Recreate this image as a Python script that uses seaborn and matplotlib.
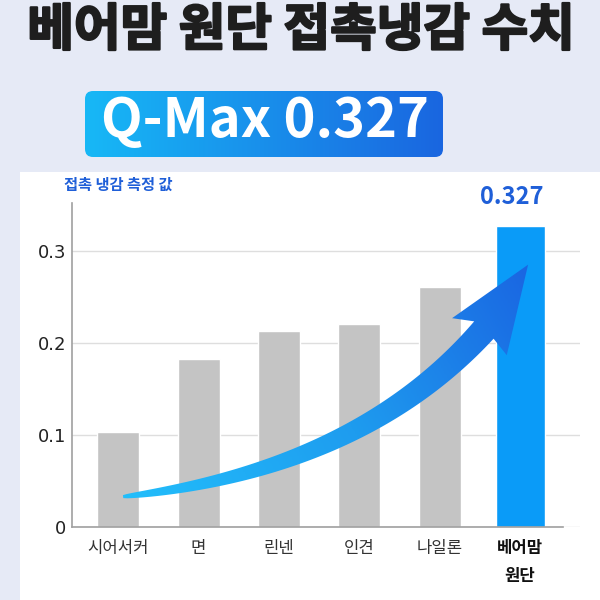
import numpy as np
import pandas as pd
import seaborn as sns
import matplotlib.pyplot as plt
import matplotlib.patheffects as pe
from matplotlib.patches import Rectangle, FancyBboxPatch, Polygon
from matplotlib.colors import LinearSegmentedColormap

# data
fabrics = ['시어서커', '면', '린넨', '인견', '나일론', '베어맘\n원단']
cooling = [0.103, 0.183, 0.213, 0.221, 0.261, 0.327]
bar_colors = ['#C4C4C4'] * 5 + ['#0A9BF8']
y_ticks = [0, 0.1, 0.2, 0.3]
y_tick_labels = ['0', '0.1', '0.2', '0.3']
title = '베어맘 원단 접촉냉감 수치'
badge_text = 'Q-Max 0.327'
unit_label = '접촉 냉감 측정 값'

df = pd.DataFrame({'fabric': fabrics, 'cooling': cooling})

sns.set_theme(style='white')
plt.rcParams['font.family'] = ['Noto Sans CJK KR', 'DejaVu Sans']

fig = plt.figure(figsize=(6, 6), dpi=100)
fig.patch.set_facecolor('#E6EAF6')

# full-figure pixel canvas for the decoration
bg = fig.add_axes([0, 0, 1, 1])
bg.set_xlim(0, 600)
bg.set_ylim(600, 0)
bg.axis('off')
bg.add_patch(Rectangle((20, 172), 580, 428, facecolor='white', edgecolor='none'))
bg.text(301, 31, title, ha='center', va='center', fontsize=36.5,
        fontweight='black', color='#1E1E1E',
        path_effects=[pe.withStroke(linewidth=1.6, foreground='#1E1E1E')])

# gradient badge
grad = np.linspace(0, 1, 256).reshape(1, -1)
badge_cmap = LinearSegmentedColormap.from_list('badge', ['#17B8F6', '#1A66E0'])
im = bg.imshow(grad, cmap=badge_cmap, extent=(85, 443, 157, 91), aspect='auto')
box = FancyBboxPatch((85, 91), 358, 66, boxstyle='round,pad=0,rounding_size=8',
                     transform=bg.transData, facecolor='none', edgecolor='none')
bg.add_patch(box)
im.set_clip_path(box)
bg.set_xlim(0, 600)
bg.set_ylim(600, 0)
bg.text(265, 122, badge_text, ha='center', va='center', fontsize=39,
        fontweight='bold', color='white')
bg.text(64, 185, unit_label, ha='left', va='center', fontsize=11,
        fontweight='bold', color='#1F5FD8')

# the chart
ax = fig.add_axes([72 / 600, 1 - 527 / 600, 508 / 600, 324 / 600])
ax.set_facecolor('none')
sns.barplot(data=df, x='fabric', y='cooling', hue='fabric', palette=bar_colors,
            legend=False, width=0.52, saturation=1, ax=ax, zorder=2)
last = ax.patches[-1]
cx = last.get_x() + last.get_width() / 2
last.set_width(0.61)
last.set_x(cx - 0.305)

ax.set_xlim(-0.576, 5.746)
ax.set_ylim(0, 0.352)
ax.set_yticks(y_ticks, labels=y_tick_labels)
ax.set_xlabel('')
ax.set_ylabel('')
ax.yaxis.grid(True, color='#DEDEDE', linewidth=1)
ax.set_axisbelow(True)
ax.tick_params(axis='y', length=0, pad=4, labelcolor='#222222')
ax.tick_params(axis='x', length=0, pad=9, labelsize=12, labelcolor='#333333')
for t_lbl in ax.get_yticklabels():
    t_lbl.set_fontfamily('DejaVu Sans')
    t_lbl.set_fontsize(13)
for s in ['top', 'right']:
    ax.spines[s].set_visible(False)
for s in ['left', 'bottom']:
    ax.spines[s].set_color('#A0A0A0')
    ax.spines[s].set_linewidth(1.2)
ax.spines['bottom'].set_bounds(-0.576, 5.53)
lbl = ax.get_xticklabels()[-1]
lbl.set_fontweight('bold')
lbl.set_color('#111111')
lbl.set_linespacing(1.7)

ax.annotate(f'{cooling[-1]:.3f}', (5, cooling[-1]), xytext=(-6, 21),
            textcoords='offset points', ha='center', va='center',
            fontsize=17, fontweight='bold', color='#1F5FD8')

# curved gradient arrow over the bars
p0 = np.array([0.06, 0.033])
p1 = np.array([3.0, 0.062])
p2 = np.array([4.55, 0.214])
tip = np.array([5.10, 0.285])
t = np.linspace(0, 1, 120)[:, None]
curve = (1 - t) ** 2 * p0 + 2 * t * (1 - t) * p1 + t ** 2 * p2
px = ax.transData.transform(curve)
tang = np.gradient(px, axis=0)
tang /= np.linalg.norm(tang, axis=1)[:, None]
norm = np.column_stack([-tang[:, 1], tang[:, 0]])
w = 3 + 23 * t[:, 0] ** 0.6
upper = px + norm * w[:, None] / 2
lower = px - norm * w[:, None] / 2
tip_px = ax.transData.transform(tip)
d = tip_px - px[-1]
d /= np.linalg.norm(d)
perp = np.array([-d[1], d[0]])
barb_l = px[-1] - 8 * d + 33 * perp
barb_r = px[-1] - 8 * d - 33 * perp
outline = np.vstack([upper, barb_l, tip_px, barb_r, lower[::-1]])
arrow = Polygon(ax.transData.inverted().transform(outline), closed=True,
                transform=ax.transData, facecolor='none', edgecolor='none')
ax.add_patch(arrow)

gx, gy = np.meshgrid(np.linspace(-0.2, 5.4, 300), np.linspace(0, 0.32, 200))
gpx = ax.transData.transform(np.column_stack([gx.ravel(), gy.ravel()]))
start_px = px[0]
axis_vec = (tip_px - start_px) / np.linalg.norm(tip_px - start_px) ** 2
sval = ((gpx - start_px) @ axis_vec).reshape(gx.shape)
arrow_cmap = LinearSegmentedColormap.from_list('arrow', ['#22BEFB', '#1E9CEF', '#1A66E2'])
aim = ax.imshow(sval, cmap=arrow_cmap, vmin=0, vmax=1, origin='lower',
                extent=(-0.2, 5.4, 0, 0.32), aspect='auto', zorder=3)
aim.set_clip_path(arrow)
ax.set_xlim(-0.576, 5.746)
ax.set_ylim(0, 0.352)

fig.savefig('out.png', dpi=100, facecolor=fig.get_facecolor())
